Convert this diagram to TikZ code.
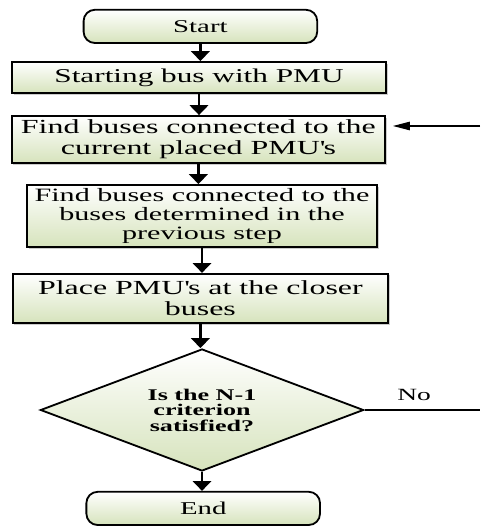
\documentclass[tikz,border=0pt]{standalone}
\usepackage{fontspec}
\setmainfont{Liberation Serif}[FakeStretch=1.6]
\usetikzlibrary{shapes.geometric,arrows.meta,shadows}
\definecolor{boxgreen}{RGB}{214,227,188}

\begin{document}
\begin{tikzpicture}[>={Triangle[width=13pt,length=7pt]}, every node/.style={align=center},
  box/.style={draw, line width=1.3pt, rectangle, top color=white, bottom color=boxgreen, inner sep=1pt,
    drop shadow={shadow xshift=1.2pt, shadow yshift=-1.2pt, fill=black!40}},
  term/.style={draw, line width=1.3pt, rectangle, rounded corners=8pt, top color=white, bottom color=boxgreen,
    minimum width=5.84cm, minimum height=0.83cm, font=\fontsize{12.8}{14}\selectfont},
  flow/.style={->, line width=2pt}]

\useasboundingbox (0,0) rectangle (12,-13.175);

% Nodes
\node[term] (start) at (5.01,-0.66) {Start};
\node[box, minimum width=9.35cm, minimum height=0.78cm, font=\fontsize{13.9}{14.6}\selectfont] (startbus) at (4.975,-1.94) {Starting bus with PMU};
\node[box, minimum width=9.33cm, minimum height=1.18cm, font=\fontsize{14.2}{14.8}\selectfont] (findcur) at (4.96,-3.49) {Find buses connected to the\\ current placed PMU\textquotesingle s};
\node[box, minimum width=8.75cm, minimum height=1.55cm, font=\fontsize{13.4}{13.2}\selectfont] (findprev) at (5.05,-5.40) {Find buses connected to the\\ buses determined in the\\ previous step};
\node[box, minimum width=9.38cm, minimum height=1.23cm, font=\fontsize{14.2}{14.8}\selectfont] (place) at (5.01,-7.46) {Place PMU\textquotesingle s at the closer\\ buses};
\node[draw, line width=1.3pt, diamond, aspect=2.65, top color=white, bottom color=boxgreen, minimum width=8.08cm, minimum height=3.05cm,
  inner sep=0pt, font=\bfseries\fontsize{11.6}{11}\selectfont] (crit) at (5.05,-10.25) {Is the N-1\\ criterion\\ satisfied?};
\node[term] (end) at (5.08,-12.71) {End};
\coordinate (loopin) at (12,-3.15);
\coordinate (noout) at (12,-10.25);

% Edges
\draw[flow] (start.south) -- (start.south |- startbus.north);
\draw[flow] (startbus.south) -- (startbus.south |- findcur.north);
\draw[flow] (findcur.south) -- (findcur.south |- findprev.north);
\draw[flow] (findprev.south) -- (findprev.south |- place.north);
\draw[flow] (place.south) -- (place.south |- crit.north);
\draw[flow] (crit.south) -- (crit.south |- end.north);
\draw[-{Triangle[width=6pt,length=12pt]}, line width=0.8pt, shorten >=5pt] (loopin) -- (loopin -| findcur.east);
\draw[line width=0.8pt] (crit.east) -- (noout) node[pos=0.43, above=3pt, font=\fontsize{12.2}{14}\selectfont] {No};

\end{tikzpicture}
\end{document}
